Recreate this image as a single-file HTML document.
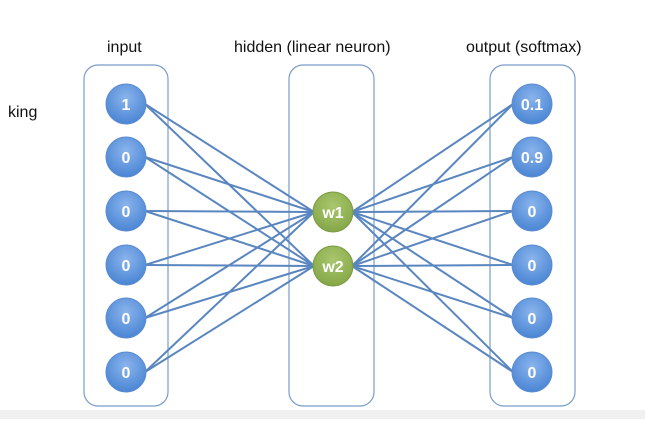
<!DOCTYPE html>
<html><head><style>
body{margin:0;width:645px;height:419px;background:#fff;overflow:hidden;font-family:"Liberation Sans",sans-serif}
</style></head><body>
<svg width="645" height="419" xmlns="http://www.w3.org/2000/svg">
<defs>
<radialGradient id="b" cx="50%" cy="35%" r="65%"><stop offset="0" stop-color="#8ab4ec"/><stop offset="1" stop-color="#4a85d4"/></radialGradient>
<radialGradient id="g" cx="50%" cy="35%" r="65%"><stop offset="0" stop-color="#a9c76e"/><stop offset="1" stop-color="#85a748"/></radialGradient>
</defs>
<rect x="0" y="410" width="645" height="9" fill="#f0f0f0"/>
<rect x="84" y="65" width="84" height="341" rx="14" fill="none" stroke="#7a9cc9" stroke-width="1.2"/>
<rect x="289" y="65" width="85" height="341" rx="14" fill="none" stroke="#7a9cc9" stroke-width="1.2"/>
<rect x="490" y="65" width="85" height="341" rx="14" fill="none" stroke="#7a9cc9" stroke-width="1.2"/>
<g font-size="16" fill="#111">
<text x="107" y="52">input</text>
<text x="234" y="52">hidden  (linear neuron)</text>
<text x="466" y="52">output (softmax)</text>
<text x="8" y="117">king</text>
</g>
<g stroke="#5a86c0" stroke-width="2">
<line x1="145" y1="104" x2="314" y2="212"/><line x1="145" y1="104" x2="314" y2="266"/>
<line x1="145" y1="157" x2="314" y2="212"/><line x1="145" y1="157" x2="314" y2="266"/>
<line x1="145" y1="211" x2="314" y2="212"/><line x1="145" y1="211" x2="314" y2="266"/>
<line x1="145" y1="265" x2="314" y2="212"/><line x1="145" y1="265" x2="314" y2="266"/>
<line x1="145" y1="318" x2="314" y2="212"/><line x1="145" y1="318" x2="314" y2="266"/>
<line x1="145" y1="372" x2="314" y2="212"/><line x1="145" y1="372" x2="314" y2="266"/>
<line x2="513" y2="104" x1="352" y1="212"/><line x2="513" y2="104" x1="352" y1="266"/>
<line x2="513" y2="157" x1="352" y1="212"/><line x2="513" y2="157" x1="352" y1="266"/>
<line x2="513" y2="211" x1="352" y1="212"/><line x2="513" y2="211" x1="352" y1="266"/>
<line x2="513" y2="265" x1="352" y1="212"/><line x2="513" y2="265" x1="352" y1="266"/>
<line x2="513" y2="318" x1="352" y1="212"/><line x2="513" y2="318" x1="352" y1="266"/>
<line x2="513" y2="372" x1="352" y1="212"/><line x2="513" y2="372" x1="352" y1="266"/>
</g>
<g stroke="#5b8bcf" fill="url(#b)">
<circle cx="126" cy="104" r="20"/><circle cx="126" cy="157" r="20"/><circle cx="126" cy="211" r="20"/>
<circle cx="126" cy="265" r="20"/><circle cx="126" cy="318" r="20"/><circle cx="126" cy="372" r="20"/>
<circle cx="532" cy="104" r="20"/><circle cx="532" cy="157" r="20"/><circle cx="532" cy="211" r="20"/>
<circle cx="532" cy="265" r="20"/><circle cx="532" cy="318" r="20"/><circle cx="532" cy="372" r="20"/>
</g>
<g stroke="#7a9a42" fill="url(#g)">
<circle cx="333" cy="212" r="20"/><circle cx="333" cy="266" r="20"/>
</g>
<g fill="#fff" font-size="16" font-weight="bold" text-anchor="middle">
<text x="126" y="110">1</text><text x="126" y="163">0</text><text x="126" y="217">0</text>
<text x="126" y="271">0</text><text x="126" y="324">0</text><text x="126" y="378">0</text>
<text x="532" y="110">0.1</text><text x="532" y="163">0.9</text><text x="532" y="217">0</text>
<text x="532" y="271">0</text><text x="532" y="324">0</text><text x="532" y="378">0</text>
<text x="333" y="218">w1</text><text x="333" y="272">w2</text>
</g>
</svg>
</body></html>
